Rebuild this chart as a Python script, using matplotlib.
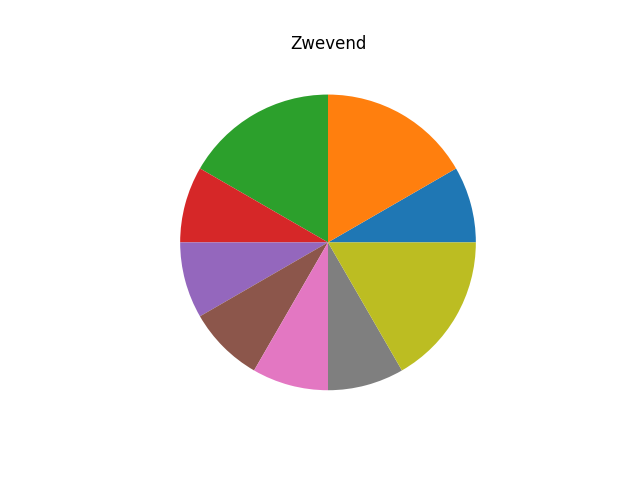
import matplotlib
matplotlib.use("Agg")
import matplotlib.pyplot as plt

# wedge sizes, counter-clockwise from 3 o'clock
sizes = [1, 2, 2, 1, 1, 1, 1, 1, 2]
title = "Zwevend"

fig, ax = plt.subplots(figsize=(6.4, 4.8), dpi=100)
ax.pie(sizes)
ax.set_title(title)
fig.savefig("out.png", dpi=100)
